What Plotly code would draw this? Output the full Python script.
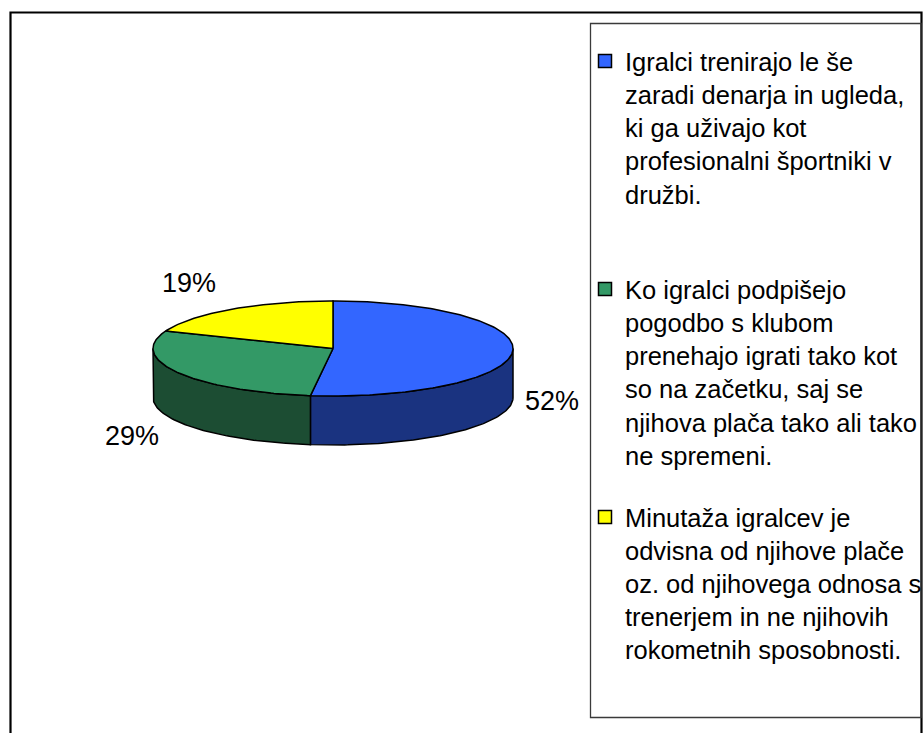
import numpy as np
import plotly.graph_objects as go

# ---- data ----
categories = [
    "Igralci trenirajo le še<br>zaradi denarja in ugleda,<br>ki ga uživajo kot<br>profesionalni športniki v<br>družbi.<br> ",
    "Ko igralci podpišejo<br>pogodbo s klubom<br>prenehajo igrati tako kot<br>so na začetku, saj se<br>njihova plača tako ali tako<br>ne spremeni.",
    "Minutaža igralcev je<br>odvisna od njihove plače<br>oz. od njihovega odnosa s<br>trenerjem in ne njihovih<br>rokometnih sposobnosti.",
]
values = [52, 29, 19]
top_colors = ["#3366FF", "#339966", "#FFFF00"]
side_colors = ["#1A3380", "#1C4D33", "#808000"]

# ---- page / geometry (screen-pixel coordinate system) ----
W, H = 923, 733
CX, CY = 333, 348.5
RX, RY = 180, 47.5
DEPTH = 49
FONT = "Liberation Sans, Arial, sans-serif"


def ell(a_deg, dy=0.0):
    a = np.radians(a_deg)
    return CX + RX * np.cos(a), CY - RY * np.sin(a) + dy


def arc(a_from, a_to, dy=0.0):
    n = max(2, int(abs(a_to - a_from)) + 2)
    ang = np.linspace(a_from, a_to, n)
    xs, ys = ell(ang, dy)
    return list(xs), list(ys)


total = float(sum(values))
cum = np.concatenate([[0], np.cumsum(values)]) / total
starts = 90 - 360 * cum[:-1]
ends = 90 - 360 * cum[1:]

fig = go.Figure()

# side walls (front part only: angles between -180 and 0)
for i in range(len(values)):
    a0, a1 = starts[i], ends[i]
    hi = min(a0, 0.0)
    lo = max(a1, -180.0)
    if hi <= lo:
        continue
    tx, ty = arc(hi, lo)
    bx, by = arc(lo, hi, DEPTH)
    xs = tx + bx + [tx[0]]
    ys = ty + by + [ty[0]]
    fig.add_trace(go.Scatter(x=xs, y=ys, mode="lines", fill="toself",
                             fillcolor=side_colors[i],
                             line=dict(color="black", width=1.5),
                             showlegend=False, hoverinfo="skip"))

# top faces
for i in range(len(values)):
    a0, a1 = starts[i], ends[i]
    tx, ty = arc(a0, a1)
    xs = [CX] + tx + [CX]
    ys = [CY] + ty + [CY]
    fig.add_trace(go.Scatter(x=xs, y=ys, mode="lines", fill="toself",
                             fillcolor=top_colors[i],
                             line=dict(color="black", width=1.5),
                             showlegend=False, hoverinfo="text",
                             text=f"{values[i]}%"))

# legend entries
for i in range(len(values)):
    fig.add_trace(go.Scatter(x=[None], y=[None], mode="markers",
                             marker=dict(symbol="square", size=13,
                                         color=top_colors[i],
                                         line=dict(color="black", width=1.5)),
                             name=categories[i], legendgroup=f"g{i}",
                             showlegend=True))

# percentage labels
for i in range(len(values)):
    mid = (starts[i] + ends[i]) / 2
    c, s = np.cos(np.radians(mid)), np.sin(np.radians(mid))
    px, py = ell(mid, DEPTH if s < 0 else 0.0)
    px += 12 * c - (7 if c < 0 else 2)
    py += -30 * s - 1
    fig.add_annotation(x=px, y=py, text=f"{values[i]}%", showarrow=False,
                       xanchor="left" if c > 0 else "right", yanchor="middle",
                       font=dict(family=FONT, size=27, color="black"))

# frames
fig.add_shape(type="rect", x0=10.5, y0=12.5, x1=921.5, y1=760,
              line=dict(color="black", width=2.2), layer="below")
fig.add_shape(type="rect", x0=590.5, y0=23.5, x1=921, y1=717.5,
              line=dict(color="#3a3a3a", width=1.3), layer="below")

fig.update_layout(
    width=W, height=H,
    margin=dict(l=0, r=0, t=0, b=0, autoexpand=False),
    paper_bgcolor="white", plot_bgcolor="white",
    xaxis=dict(range=[0, W], visible=False, fixedrange=True),
    yaxis=dict(range=[H, 0], visible=False, fixedrange=True),
    showlegend=True,
    legend=dict(x=585 / W, y=1 - 38 / H,
                xanchor="left", yanchor="top",
                font=dict(family=FONT, size=25.5, color="black"),
                bgcolor="rgba(0,0,0,0)", borderwidth=0,
                valign="top", traceorder="grouped", tracegroupgap=26,
                itemwidth=30),
    font=dict(family=FONT),
)

fig.write_html("out.html",
               config={"displayModeBar": False},
               post_script="document.body.style.margin='0';"
                           "document.body.style.overflow='hidden';")
